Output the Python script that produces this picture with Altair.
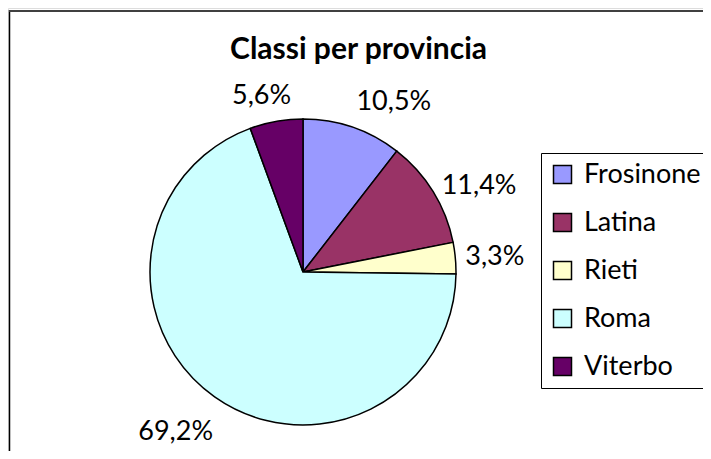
import altair as alt
import pandas as pd

# ---- data ----
provinces = ["Frosinone", "Latina", "Rieti", "Roma", "Viterbo"]
shares = [10.5, 11.4, 3.3, 69.2, 5.6]
share_labels = ["10,5%", "11,4%", "3,3%", "69,2%", "5,6%"]
colors = ["#9999FF", "#993366", "#FFFFCC", "#CCFFFF", "#660066"]
title_text = "Classi per provincia"

df = pd.DataFrame({
    "provincia": provinces,
    "quota": shares,
    "etichetta": share_labels,
    "ordine": list(range(len(provinces))),
})
total = float(sum(shares))

# ---- layout ----
W, H = 695, 443
CX, CY = 295, 264
R = 153
FONT = "Lato"
FS = 27

theta_scale = alt.Scale(domain=[0, total])
color = alt.Color(
    "provincia:N",
    scale=alt.Scale(domain=provinces, range=colors),
    legend=alt.Legend(
        title=None, orient="none", legendX=533, legendY=145, direction="vertical",
        symbolType="square", symbolSize=324, symbolStrokeColor="black",
        symbolStrokeWidth=1.5, labelFont=FONT, labelFontSize=FS, labelColor="black",
        labelOffset=8, rowPadding=20, padding=8, strokeColor="black",
        fillColor="white", labelLimit=300,
    ),
)

pie = alt.Chart(df).mark_arc(outerRadius=R, stroke="black", strokeWidth=1.5).encode(
    theta=alt.Theta("quota:Q", stack=True, scale=theta_scale),
    color=color,
    order=alt.Order("ordine:Q"),
    x=alt.value(CX),
    y=alt.value(CY),
)

lab_base = alt.Chart(df).transform_window(
    cum="sum(quota)", sort=[alt.SortField("ordine")], frame=[None, 0]
).transform_calculate(
    mid="datum.cum - datum.quota / 2",
    ang="2 * PI * (datum.cum - datum.quota / 2) / " + repr(total),
)

# label placement rules (side of pie -> alignment; vertical zone -> baseline)
placements = [
    ("sin(datum.ang) >= 0", "left", "cos(datum.ang) > 0.7", "bottom", 165, 0),
    ("sin(datum.ang) >= 0", "left", "cos(datum.ang) <= 0.7 && cos(datum.ang) >= -0.7", "middle", 163, 0),
    ("sin(datum.ang) >= 0", "left", "cos(datum.ang) < -0.7", "top", 180, 0),
    ("sin(datum.ang) < 0", "right", "cos(datum.ang) > 0.7", "bottom", 165, 17),
    ("sin(datum.ang) < 0", "right", "cos(datum.ang) <= 0.7 && cos(datum.ang) >= -0.7", "middle", 163, 0),
    ("sin(datum.ang) < 0", "right", "cos(datum.ang) < -0.7", "top", 180, 14),
]

layers = [pie]
for side, align, vert, baseline, rad, shift in placements:
    layers.append(
        lab_base.transform_filter(side + " && " + vert)
        .mark_text(radius=rad, align=align, baseline=baseline, dx=shift,
                   font=FONT, fontSize=FS, color="black")
        .encode(
            theta=alt.Theta("mid:Q", stack=False, scale=theta_scale),
            text="etichetta:N",
            x=alt.value(CX),
            y=alt.value(CY),
        )
    )

one = pd.DataFrame({"a": [0]})
frame_left = alt.Chart(one).mark_rule(color="black", strokeWidth=1.5).encode(
    x=alt.value(1.5), y=alt.value(2), y2=alt.value(H + 20))
frame_top = alt.Chart(one).mark_rule(color="#404040", strokeWidth=2).encode(
    x=alt.value(1), x2=alt.value(W + 20), y=alt.value(3))
layers += [frame_left, frame_top]

chart = alt.layer(*layers).properties(
    width=W, height=H, padding=0, autosize=alt.AutoSizeParams(type="none"),
    title=alt.TitleParams(
        title_text, font=FONT, fontSize=30, fontWeight="bold", color="black",
        anchor="middle", frame="group", offset=-42, baseline="middle", dx=3, dy=30,
    ),
).configure_view(stroke=None).configure(background="white")

chart.save("out.html", embed_options={"renderer": "svg", "actions": False})
